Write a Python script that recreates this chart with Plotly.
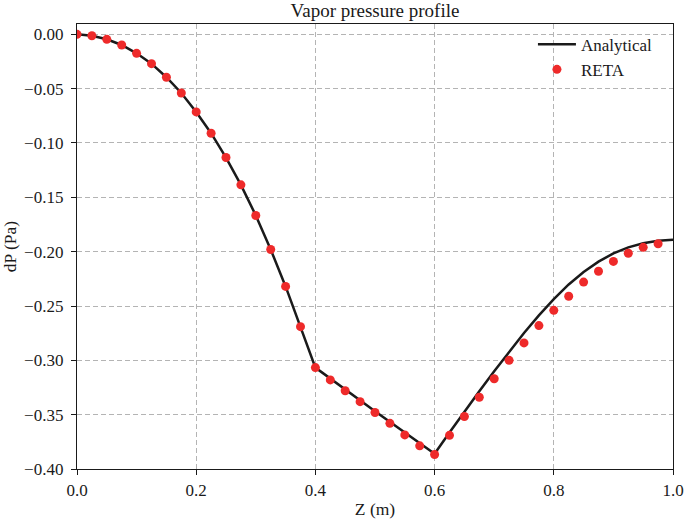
import plotly.graph_objects as go

# RETA (numerical) points
reta_z = [0.000, 0.025, 0.050, 0.075, 0.100, 0.125, 0.150, 0.175, 0.200, 0.225,
          0.250, 0.275, 0.300, 0.325, 0.350, 0.375, 0.400, 0.425, 0.450, 0.475,
          0.500, 0.525, 0.550, 0.575, 0.600, 0.625, 0.650, 0.675, 0.700, 0.725,
          0.750, 0.775, 0.800, 0.825, 0.850, 0.875, 0.900, 0.925, 0.950, 0.975]
reta_dp = [0.0000, -0.0013, -0.0046, -0.0098, -0.0175, -0.0270, -0.0395, -0.0540, -0.0714, -0.0910,
           -0.1134, -0.1385, -0.1667, -0.1980, -0.2320, -0.2690, -0.3067, -0.3180, -0.3280, -0.3380,
           -0.3480, -0.3580, -0.3686, -0.3787, -0.3867, -0.3690, -0.3517, -0.3340, -0.3170, -0.3000,
           -0.2840, -0.2680, -0.2540, -0.2410, -0.2280, -0.2180, -0.2090, -0.2015, -0.1960, -0.1927]

# Analytical solution
ana_z = [0.000, 0.025, 0.050, 0.075, 0.100, 0.125, 0.150, 0.175, 0.200, 0.225,
         0.250, 0.275, 0.300, 0.325, 0.350, 0.375, 0.400, 0.500, 0.600, 0.625,
         0.650, 0.675, 0.700, 0.725, 0.750, 0.775, 0.800, 0.825, 0.850, 0.875,
         0.900, 0.925, 0.950, 0.975, 1.000]
ana_dp = [0.0000, -0.0013, -0.0046, -0.0098, -0.0175, -0.0270, -0.0395, -0.0540, -0.0714, -0.0910,
          -0.1134, -0.1385, -0.1667, -0.1980, -0.2320, -0.2690, -0.3067, -0.3468, -0.3860, -0.3664,
          -0.3472, -0.3284, -0.3100, -0.2920, -0.2748, -0.2586, -0.2436, -0.2302, -0.2188, -0.2092,
          -0.2016, -0.1960, -0.1922, -0.1900, -0.1891]

x_ticks = [0.0, 0.2, 0.4, 0.6, 0.8, 1.0]
x_labels = ["0.0", "0.2", "0.4", "0.6", "0.8", "1.0"]
y_ticks = [0.00, -0.05, -0.10, -0.15, -0.20, -0.25, -0.30, -0.35, -0.40]
y_labels = ["0.00", "\u22120.05", "\u22120.10", "\u22120.15", "\u22120.20",
            "\u22120.25", "\u22120.30", "\u22120.35", "\u22120.40"]

FONT = "Liberation Serif"
INK = "#1a1a1a"

fig = go.Figure()
fig.add_trace(go.Scatter(x=ana_z, y=ana_dp, mode="lines", name="Analytical",
                         line=dict(color=INK, width=2.5)))
fig.add_trace(go.Scatter(x=reta_z, y=reta_dp, mode="markers", name="RETA",
                         marker=dict(color="#ee2a2a", size=9, line=dict(width=0))))

axis_common = dict(showgrid=True, gridcolor="#b4b4b4", gridwidth=1, griddash="5px,3px",
                   showline=True, linecolor=INK, linewidth=1.3, mirror=True,
                   ticks="outside", ticklen=5, tickwidth=1.1, tickcolor=INK,
                   zeroline=False, automargin=False,
                   tickfont=dict(family=FONT, size=17, color=INK),
                   title_font=dict(family=FONT, size=17.5, color=INK))

fig.update_layout(
    template="none",
    width=684, height=519,
    margin=dict(l=77, r=11, t=24, b=50, autoexpand=False),
    paper_bgcolor="white", plot_bgcolor="white",
    title=dict(text="Vapor pressure profile", x=0.5, xref="paper", xanchor="center",
               y=0.981, yref="container", yanchor="middle",
               font=dict(family=FONT, size=19, color=INK)),
    xaxis=dict(range=[0, 1], tickvals=x_ticks, ticktext=x_labels, ticklabelstandoff=0,
               title=dict(text="Z (m)", standoff=6), **axis_common),
    yaxis=dict(range=[-0.40, 0.0095], tickvals=y_ticks, ticktext=y_labels, ticklabelstandoff=4,
               title=dict(text="dP (Pa)", standoff=9), **axis_common),
    legend=dict(x=0.765, y=0.994, xanchor="left", yanchor="top", bgcolor="rgba(0,0,0,0)",
                borderwidth=0, font=dict(family=FONT, size=17, color=INK), itemwidth=38,
                tracegroupgap=0),
    showlegend=True,
)

fig.write_html("out.html", config={"displayModeBar": False},
               post_script="document.body.style.margin='0';")
